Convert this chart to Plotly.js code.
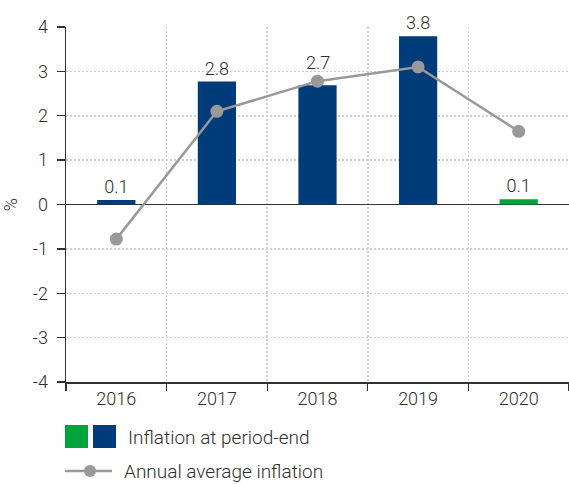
<!DOCTYPE html>
<html><head><meta charset="utf-8">
<script src="https://cdn.plot.ly/plotly-3.0.1.min.js"></script>
<style>html,body{margin:0;padding:0;background:#fff;}</style>
</head><body><div id="chart" style="width:569px;height:484px;"></div>
<script>
var years = ['2016','2017','2018','2019','2020'];
var periodEnd = [0.1, 2.77, 2.69, 3.79, 0.12];
var periodEndLabels = ['0.1','2.8','2.7','3.8','0.1'];
var periodEndColors = ['#003b7a','#003b7a','#003b7a','#003b7a','#00a33c'];
var annualAvg = [-0.78, 2.1, 2.78, 3.1, 1.65];
var yTickVals = [-4,-3,-2,-1,0,1,2,3,4];
var yTickText = ['-4','-3','-2','-1','0','1','2','3','4'];
var legendBarLabel = 'Inflation at period-end';
var legendLineLabel = 'Annual average inflation';

var FONT = 'Roboto, "Liberation Sans", Arial, sans-serif';
var TXT = '#2e2e2e';
var FS = 18;
var L = 66, T = 27, B = 382, R = 569;
function px(x){ return (x - L) / (R - L); }
function py(y){ return (B - y) / (B - T); }

// labels that would collide with the line marker just above the bar are lifted above the marker
var barText = [], labelAnns = [];
periodEnd.forEach(function(v, i){
  var d = annualAvg[i] - v;
  if (d > -0.15 && d < 0.5) {
    barText.push('');
    labelAnns.push({x:i, y:annualAvg[i], xref:'x', yref:'y', yanchor:'bottom', yshift:6, showarrow:false,
      text:periodEndLabels[i], font:{family:FONT, size:FS, color:TXT, weight:300}});
  } else barText.push(periodEndLabels[i]);
});

var traces = [
  {type:'bar', x:years, y:periodEnd, text:barText, textposition:'outside',
   textfont:{family:FONT, size:FS, color:TXT, weight:300}, cliponaxis:false,
   marker:{color:periodEndColors}, width:0.38, hoverinfo:'none', showlegend:false},
  {type:'scatter', mode:'lines+markers', x:years, y:annualAvg,
   line:{color:'#999999', width:2.5}, marker:{color:'#999999', size:13},
   hoverinfo:'none', showlegend:false}
];

var gridStyle = {showgrid:true, gridcolor:'#cfcfcf', griddash:'2px,2px', gridwidth:1.5};
var layout = {
  width:569, height:484,
  margin:{l:L, r:569-R, t:T, b:484-B},
  paper_bgcolor:'#fff', plot_bgcolor:'#fff',
  font:{family:FONT, size:FS, color:TXT, weight:300},
  showlegend:false,
  xaxis:Object.assign({type:'category', range:[-0.5,4.5], tickson:'boundaries', ticks:'outside', ticklen:7,
    tickcolor:'#333', tickwidth:1.3,
    showline:true, linecolor:'#333', linewidth:1.5, tickfont:{family:FONT, size:FS, color:TXT, weight:300},
    fixedrange:true}, gridStyle),
  yaxis:Object.assign({range:[-4,4], tickvals:yTickVals, ticktext:yTickText, ticks:'outside', ticklen:8,
    tickcolor:'#333', tickwidth:1.3, ticklabelstandoff:5,
    showline:true, linecolor:'#333', linewidth:1.5, zeroline:true, zerolinecolor:'#333', zerolinewidth:1.5,
    tickfont:{family:FONT, size:FS, color:TXT, weight:300},
    title:{text:'%', font:{family:FONT, size:FS, color:TXT, weight:300}, standoff:14}, fixedrange:true}, gridStyle),
  shapes:[
    {type:'rect', xref:'paper', yref:'paper', x0:px(65), x1:px(88), y0:py(448), y1:py(425), fillcolor:'#00a33c', line:{width:0}},
    {type:'rect', xref:'paper', yref:'paper', x0:px(93), x1:px(116), y0:py(448), y1:py(425), fillcolor:'#003b7a', line:{width:0}},
    {type:'line', xref:'paper', yref:'paper', x0:px(65), x1:px(112), y0:py(471), y1:py(471), line:{color:'#999999', width:2.5}},
    {type:'circle', xref:'paper', yref:'paper', x0:px(84), x1:px(96), y0:py(477), y1:py(465), fillcolor:'#999999', line:{width:0}}
  ],
  annotations:[
    {xref:'paper', yref:'paper', x:px(126), y:py(437), xanchor:'left', yanchor:'middle', showarrow:false,
     text:legendBarLabel, font:{family:FONT, size:19, color:TXT, weight:300}},
    {xref:'paper', yref:'paper', x:px(122), y:py(471), xanchor:'left', yanchor:'middle', showarrow:false,
     text:legendLineLabel, font:{family:FONT, size:19, color:TXT, weight:300}}
  ].concat(labelAnns)
};
Plotly.newPlot('chart', traces, layout, {displayModeBar:false, staticPlot:true});
</script></body></html>
